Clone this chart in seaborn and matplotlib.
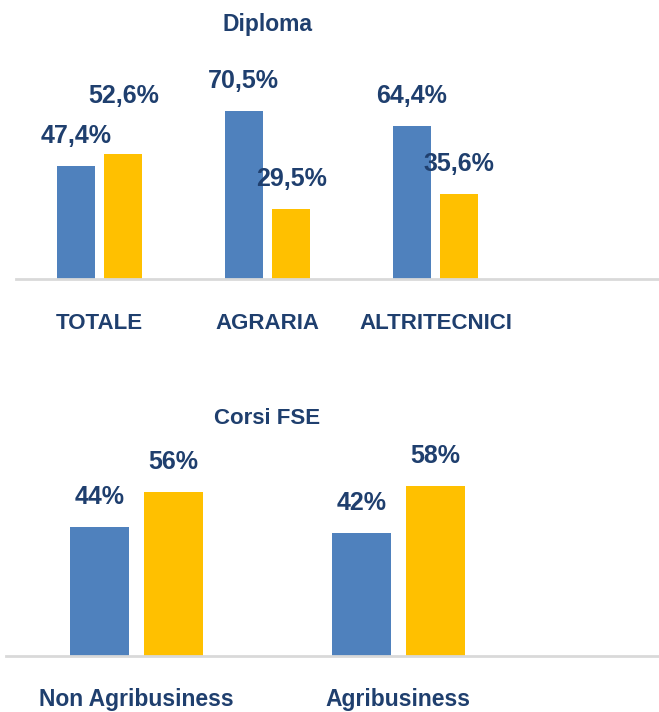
import matplotlib
matplotlib.use("Agg")
import matplotlib.pyplot as plt
import seaborn as sns
import pandas as pd

# ---- data ----
dip_categories = ["TOTALE", "AGRARIA", "ALTRITECNICI"]
dip_series_a = [47.4, 70.5, 64.4]
dip_series_b = [52.6, 29.5, 35.6]
dip_labels_a = ["47,4%", "70,5%", "64,4%"]
dip_labels_b = ["52,6%", "29,5%", "35,6%"]

fse_categories = ["Non Agribusiness", "Agribusiness"]
fse_series_a = [44, 42]
fse_series_b = [56, 58]
fse_labels_a = ["44%", "42%"]
fse_labels_b = ["56%", "58%"]

series_names = ["A", "B"]

BLUE = "#4F81BD"
YELLOW = "#FFC000"
TEXT = "#1F3F6E"
AXIS = "#D9D9D9"

sns.set_style("white")
plt.rcParams["font.family"] = ["Liberation Sans", "DejaVu Sans"]
plt.rcParams["font.weight"] = "bold"

W, H = 659, 712
fig = plt.figure(figsize=(W / 100, H / 100), dpi=100)


def make_df(cats, a, b):
    rows = []
    for c, v in zip(cats, a):
        rows.append({"cat": c, "serie": series_names[0], "val": v})
    for c, v in zip(cats, b):
        rows.append({"cat": c, "serie": series_names[1], "val": v})
    return pd.DataFrame(rows)


def draw(ax, cats, a, b, la, lb, ylim, xright, label_fs, tick_fs, pad, extra_up):
    df = make_df(cats, a, b)
    sns.barplot(data=df, x="cat", y="val", hue="serie", order=cats,
                hue_order=series_names, palette=[BLUE, YELLOW],
                width=0.568, gap=0.204, ax=ax, legend=False, saturation=1,
                linewidth=0)
    ax.set_ylim(*ylim)
    ax.set_xlim(-0.5, xright)
    for cont, labs, key in zip(ax.containers, [la, lb], [0, 1]):
        for i, (bar, lab) in enumerate(zip(cont, labs)):
            x = bar.get_x() + bar.get_width() / 2
            y = bar.get_height()
            up = extra_up.get((key, i), 30)
            ax.annotate(lab, (x, y), xytext=(0, up * 0.72), textcoords="offset points",
                        ha="center", va="center", color=TEXT, fontsize=label_fs,
                        fontweight="bold")
    for s in ["top", "right", "left"]:
        ax.spines[s].set_visible(False)
    ax.spines["bottom"].set_color(AXIS)
    ax.spines["bottom"].set_linewidth(2)
    ax.set_yticks([])
    ax.set_xlabel("")
    ax.set_ylabel("")
    ax.tick_params(axis="x", length=0, pad=pad, labelsize=tick_fs, labelcolor=TEXT)
    for t in ax.get_xticklabels():
        t.set_fontweight("bold")
    ax.set_facecolor("none")


# top chart
ax1 = fig.add_axes([15.5 / W, (H - 279) / H, 643.5 / W, 190.4 / H])
draw(ax1, dip_categories, dip_series_a, dip_series_b, dip_labels_a, dip_labels_b,
     (0, 80), 3.33, 18, 16, 24.5, {(1, 0): 58})
fig.text(267 / W, 1 - 24 / H, "Diploma", ha="center", va="center", color=TEXT,
         fontsize=16.5, fontweight="bold")

# bottom chart
ax2 = fig.add_axes([5.5 / W, (H - 656) / H, 653.5 / W, 176 / H])
draw(ax2, fse_categories, fse_series_a, fse_series_b, fse_labels_a, fse_labels_b,
     (0, 60), 1.995, 18, 16.5, 23, {})
fig.text(267 / W, 1 - 418 / H, "Corsi FSE", ha="center", va="center", color=TEXT,
         fontsize=16, fontweight="bold")

fig.savefig("out.png", dpi=100)
